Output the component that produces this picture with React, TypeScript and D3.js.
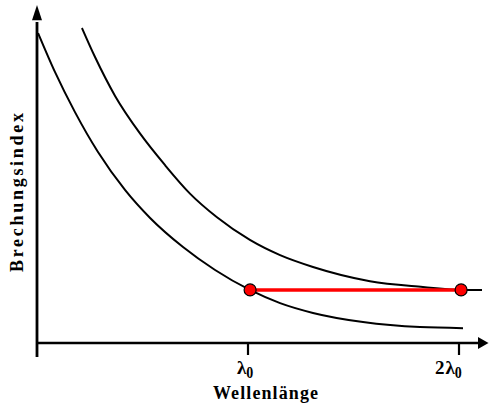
import React from "react";
import * as d3 from "d3";

// wavelength in units of λ0, refractive index in arbitrary units
const lowerLambda = [0.005, 0.085, 0.18, 0.289, 0.417, 0.536, 0.692, 0.844, 1.009, 1.152, 1.308, 1.545, 1.815, 2.019];
const lowerIndex = [91.7, 80.2, 68.3, 56.5, 45.3, 37.0, 28.4, 21.6, 15.7, 11.8, 8.9, 6.2, 4.7, 4.4];
const upperLambda = [0.213, 0.275, 0.37, 0.488, 0.607, 0.725, 0.853, 1.009, 1.152, 1.308, 1.578, 1.829, 2.014, 2.109];
const upperIndex = [93.2, 84.6, 73.1, 62.0, 52.6, 44.2, 37.2, 30.5, 26.0, 22.5, 18.3, 16.6, 15.7, 15.7];
const dotLambda = [1.01, 2.01];
const dotIndex = [15.7, 15.7];
const tickValues = [1, 2];
const tickPrefixes = ["", "2"];
const xTitle = "Wellenlänge";
const yTitle = "Brechungsindex";

const W = 493;
const H = 412;

export default function App() {
  const x = d3.scaleLinear().domain([0, 2.15]).range([37, 490.65]);
  const y = d3.scaleLinear().domain([0, 100]).range([343, 5]);
  const line = d3
    .line<[number, number]>()
    .x((d) => x(d[0]))
    .y((d) => y(d[1]))
    .curve(d3.curveMonotoneX);
  const lower = lowerLambda.map((l, i) => [l, lowerIndex[i]] as [number, number]);
  const upper = upperLambda.map((l, i) => [l, upperIndex[i]] as [number, number]);
  const x0 = x(0);
  const y0 = y(0);
  const font = "'Liberation Serif', 'Times New Roman', serif";
  return (
    <svg
      width={W}
      height={H}
      style={{ position: "absolute", left: 0, top: 0, background: "#fff" }}
      fontFamily={font}
    >
      {/* axes */}
      <line x1={x0} x2={x0} y1={y0 + 14} y2={y(95)} stroke="#000" strokeWidth={2.8} />
      <path d={`M${x0 - 5},${y(95.5)} L${x0},${y(100)} L${x0 + 5},${y(95.5)} Z`} fill="#000" />
      <line x1={x0} x2={x(2.09)} y1={y0} y2={y0} stroke="#000" strokeWidth={2.4} />
      <path d={`M${x(2.09)},${y0 - 6} L${x(2.14)},${y0} L${x(2.09)},${y0 + 6} Z`} fill="#000" />
      {tickValues.map((t, i) => (
        <g key={t}>
          <line x1={x(t)} x2={x(t)} y1={y0} y2={y0 + 12} stroke="#000" strokeWidth={2.2} />
          <text x={x(t) - 11 - (tickPrefixes[i] ? 13 : 0)} y={374} fontSize={19} fontWeight="bold" fill="#000">
            {tickPrefixes[i] ? <tspan>{tickPrefixes[i]}</tspan> : null}
            <tspan dx={tickPrefixes[i] ? 1 : 0}>λ</tspan>
            <tspan dy={4} fontSize={17} textLength={7} lengthAdjust="spacingAndGlyphs">0</tspan>
          </text>
        </g>
      ))}
      <text x={213} y={399} fontSize={18} fontWeight="bold" textLength={105} lengthAdjust="spacing" fill="#000">
        {xTitle}
      </text>
      <text
        transform={`translate(23,272) rotate(-90)`}
        fontSize={18}
        fontWeight="bold"
        textLength={159}
        lengthAdjust="spacing"
        fill="#000"
      >
        {yTitle}
      </text>
      {/* curves */}
      <path d={line(lower) || ""} fill="none" stroke="#000" strokeWidth={2} />
      <path d={line(upper) || ""} fill="none" stroke="#000" strokeWidth={2} />
      {/* red connection */}
      <line
        x1={x(dotLambda[0])}
        x2={x(dotLambda[1])}
        y1={y(dotIndex[0])}
        y2={y(dotIndex[1])}
        stroke="#ff0000"
        strokeWidth={3.5}
      />
      {dotLambda.map((l, i) => (
        <circle key={i} cx={x(l)} cy={y(dotIndex[i])} r={6} fill="#ff0000" stroke="#000" strokeWidth={1.2} />
      ))}
    </svg>
  );
}
